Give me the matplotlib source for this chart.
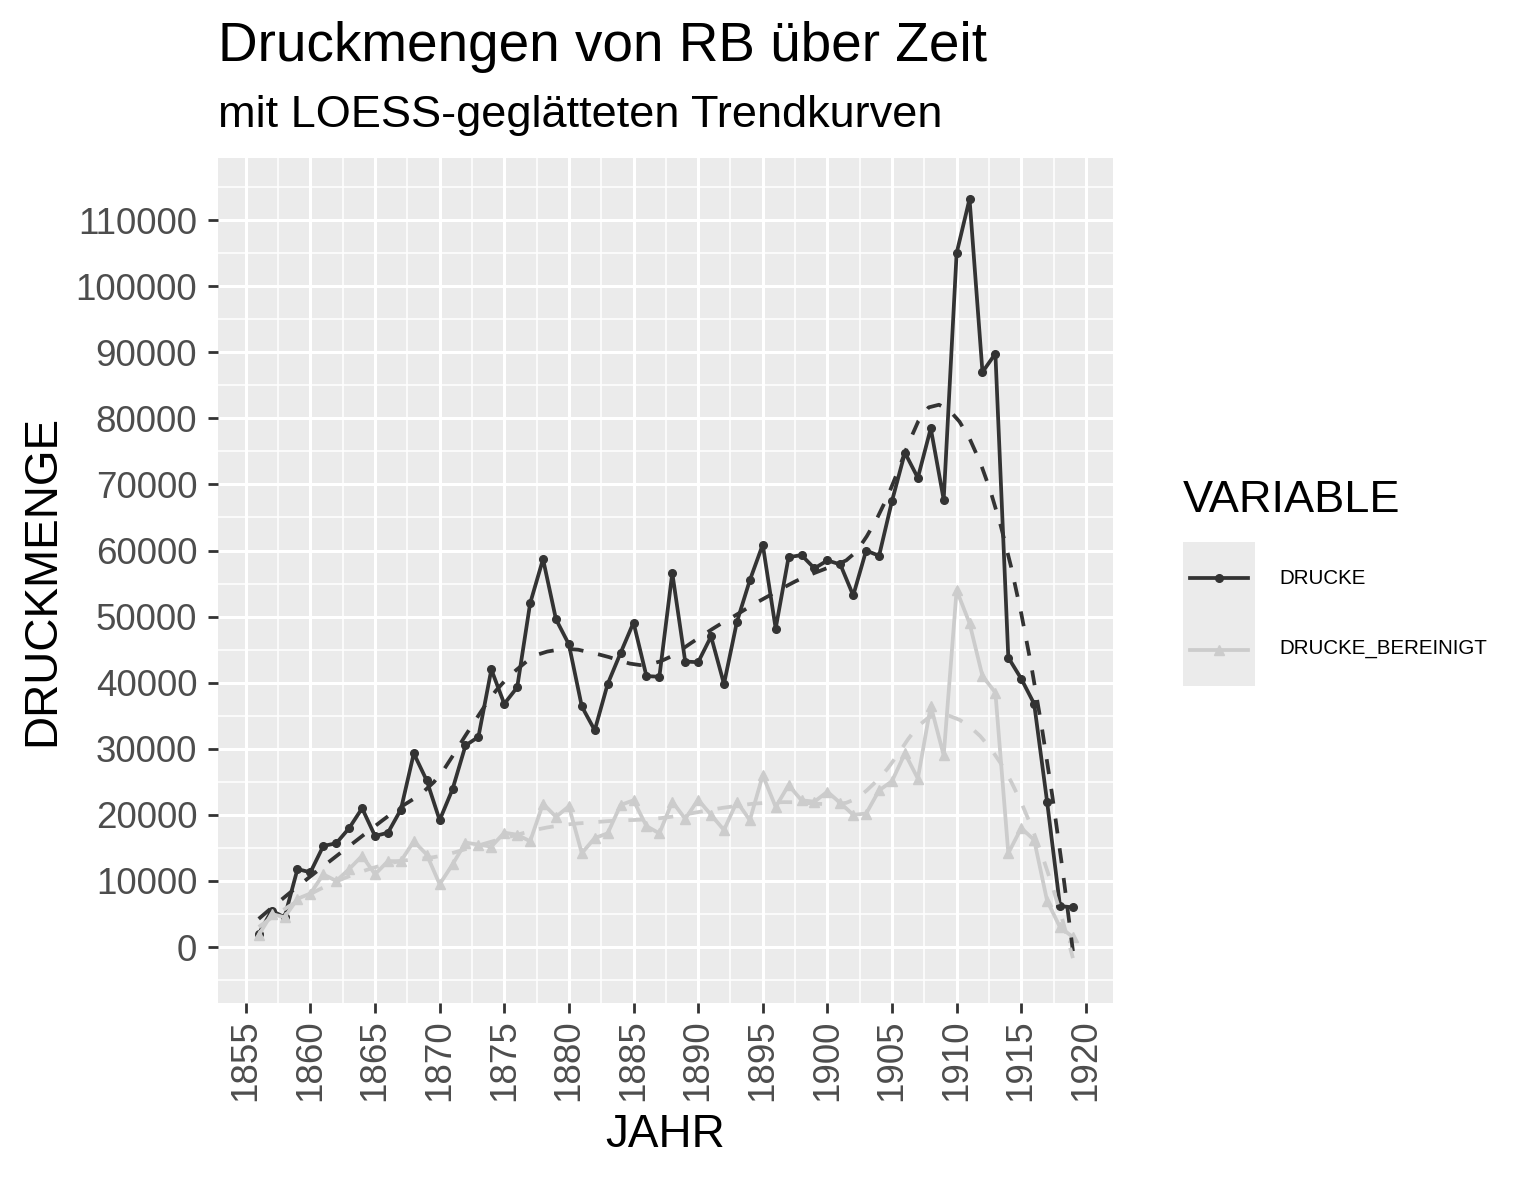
import numpy as np
import matplotlib.pyplot as plt
from matplotlib.ticker import MultipleLocator

plt.rcParams['font.family'] = ['Liberation Sans', 'DejaVu Sans']

# Jahre und Druckmengen
jahre = np.arange(1856, 1920)
drucke = [2000, 5500, 4500, 11800, 11300, 15300, 15700, 18000, 21000, 16800,
          17300, 20800, 29300, 25200, 19200, 23900, 30500, 31800, 42000, 36800,
          39300, 52000, 58700, 49600, 45800, 36400, 32800, 39800, 44500, 49100,
          41000, 40900, 56600, 43200, 43100, 47000, 39800, 49200, 55500, 60900,
          48200, 59000, 59300, 57300, 58500, 57900, 53200, 60000, 59200, 67500,
          74800, 71000, 78500, 67700, 105000, 113200, 87000, 89800, 43800, 40600,
          36800, 22000, 6200, 6000]
drucke_bereinigt = [1800, 5000, 4500, 7300, 8100, 11000, 10000, 11800, 13800, 11000,
                    13000, 13000, 16000, 14000, 9500, 12500, 15800, 15500, 15200, 17300,
                    17000, 16000, 21700, 19700, 21300, 14200, 16500, 17200, 21500, 22200,
                    18300, 17200, 22000, 19400, 22300, 20000, 17700, 22000, 19200, 26000,
                    21200, 24500, 22200, 22000, 23500, 21800, 20000, 20200, 23700, 25100,
                    29300, 25500, 36500, 29000, 54000, 49000, 41000, 38500, 14200, 18000,
                    16200, 7000, 3000, 1500]
labels = ["DRUCKE", "DRUCKE_BEREINIGT"]
farben = ["#333333", "#CCCCCC"]
marker = ["o", "^"]


def loess(x, y, xneu, span=0.4):
    # lokale quadratische Regression mit Tricube-Gewichten
    x = np.asarray(x, float)
    y = np.asarray(y, float)
    n = len(x)
    k = int(np.ceil(span * n))
    out = []
    for x0 in xneu:
        d = np.abs(x - x0)
        h = np.sort(d)[k - 1]
        w = (1 - np.clip(d / h, 0, 1) ** 3) ** 3
        X = np.column_stack([np.ones(n), x - x0, (x - x0) ** 2])
        W = np.sqrt(w)
        beta = np.linalg.lstsq(X * W[:, None], y * W, rcond=None)[0]
        out.append(beta[0])
    return np.array(out)


fig = plt.figure(figsize=(15.35, 11.81), dpi=100)
ax = fig.add_axes([218 / 1535, 1 - 1003 / 1181, (1113 - 218) / 1535, (1003 - 158) / 1181])
ax.set_facecolor("#EBEBEB")
for s in ax.spines.values():
    s.set_visible(False)

xs = np.linspace(jahre.min(), jahre.max(), 80)
for werte, lab, col, m in zip([drucke, drucke_bereinigt], labels, farben, marker):
    ax.plot(jahre, werte, color=col, lw=2.7, marker=m, ms=5.5 if m == "o" else 6.5,
            zorder=3)
    ax.plot(xs, loess(jahre, werte, xs), color=col, lw=2.7, ls=(0, (4, 4)), zorder=4)

ax.set_xlim(1852.85, 1922.1)
ax.set_ylim(-8470, 119400)
ax.xaxis.set_major_locator(MultipleLocator(5))
ax.xaxis.set_minor_locator(MultipleLocator(2.5))
ax.yaxis.set_major_locator(MultipleLocator(10000))
ax.yaxis.set_minor_locator(MultipleLocator(5000))
ax.grid(which="major", color="white", lw=2.2)
ax.grid(which="minor", color="white", lw=1.1)
ax.set_axisbelow(True)
ax.tick_params(which="major", length=7, width=2, color="#333333",
               labelsize=26.5, labelcolor="#4D4D4D", pad=8)
ax.tick_params(which="minor", length=0)
ax.tick_params(axis="x", labelrotation=90, pad=5)

ax.set_xlabel("JAHR", fontsize=33, labelpad=8)
ax.set_ylabel("DRUCKMENGE", fontsize=33, labelpad=8)

fig.text(218 / 1535, 1 - 47 / 1181, "Druckmengen von RB über Zeit", fontsize=39.5,
         va="center", ha="left")
fig.text(218 / 1535, 1 - 115 / 1181, "mit LOESS-geglätteten Trendkurven", fontsize=32.5,
         va="center", ha="left")

# Legende
fig.text(1183 / 1535, 1 - 500 / 1181, "VARIABLE", fontsize=32.5, va="center", ha="left")
lax = fig.add_axes([1183 / 1535, 1 - 686 / 1181, 72 / 1535, 144 / 1181])
lax.set_facecolor("#EBEBEB")
lax.set_xlim(0, 1)
lax.set_ylim(0, 1)
lax.set_xticks([])
lax.set_yticks([])
for s in lax.spines.values():
    s.set_visible(False)
for i, (lab, col, m) in enumerate(zip(labels, farben, marker)):
    yk = 0.75 - i * 0.5
    lax.plot([0.1, 0.9], [yk, yk], color=col, lw=2.7)
    lax.plot([0.5], [yk], color=col, marker=m, ms=5.5 if m == "o" else 6.5)
    fig.text(1279 / 1535, 1 - (578 + i * 71) / 1181, lab, fontsize=14.8, va="center",
             ha="left")

fig.savefig("out.png", dpi=100)
